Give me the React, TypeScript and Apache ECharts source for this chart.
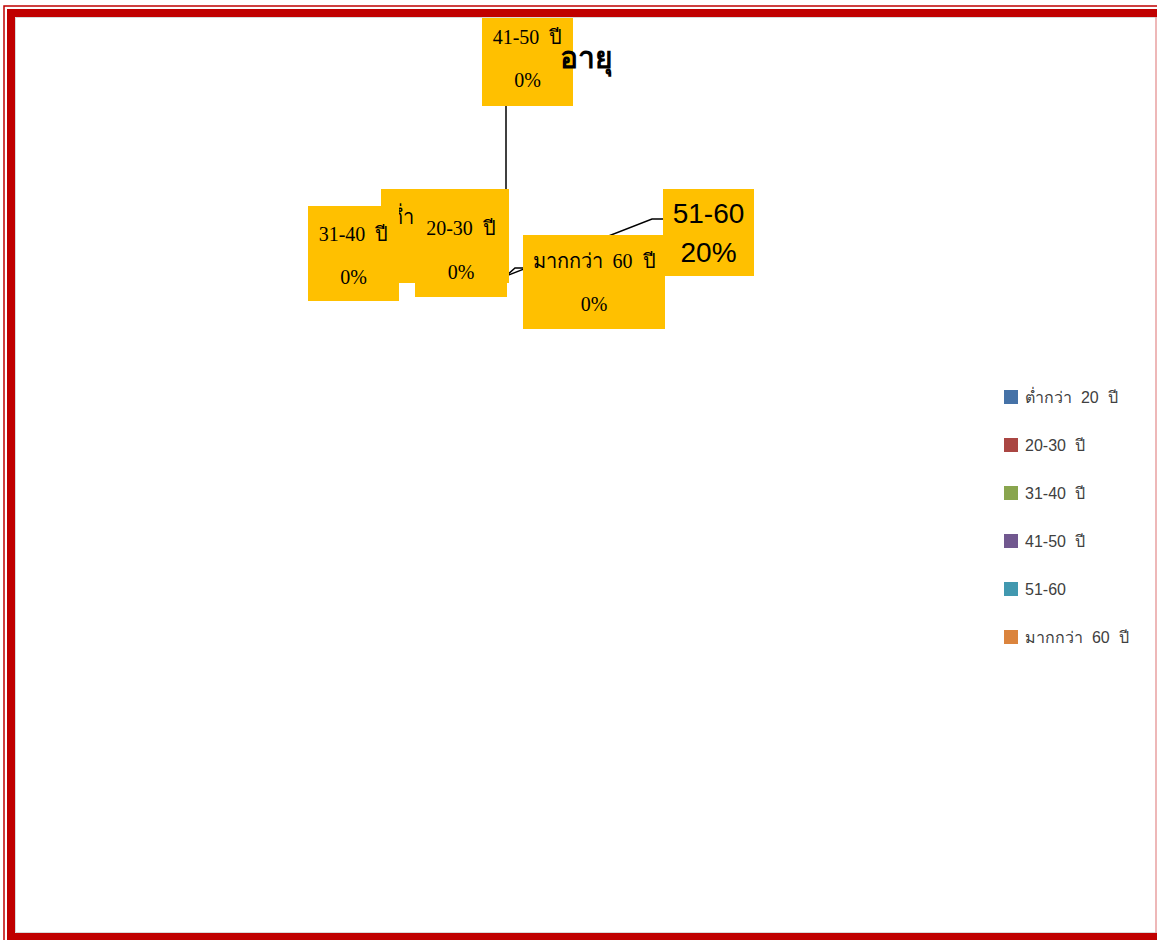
import React, { useEffect, useRef } from "react";
import * as echarts from "echarts";

const categories = ["ต่ำกว่า 20 ปี", "20-30 ปี", "31-40 ปี", "41-50 ปี", "51-60", "มากกว่า 60 ปี"];
const percentValues = [0, 0, 0, 0, 20, 0];
const sliceColors = ["#4572A7", "#AA4643", "#89A54E", "#71588F", "#4198AF", "#DB843D"];
const titleText = "อายุ";

// label box layout: top-left x/y, width, paddings, line height
const labelBoxes = [
  { x: 381, y: 189, w: 128, pt: 6, pb: 2, lh: 43 },
  { x: 415, y: 189, w: 92, pt: 17, pb: 3, lh: 44 },
  { x: 308, y: 206, w: 91, pt: 6, pb: 3, lh: 43 },
  { x: 482, y: 10, w: 91, pt: 5, pb: 5, lh: 43 },
  { x: 663, y: 189, w: 91, pt: 5, pb: 4, lh: 39 },
  { x: 523, y: 235, w: 142, pt: 4, pb: 4, lh: 43 },
];
const PIE_CENTER = [506, 276];
// leader line bends (elbow, end) per label
const leaderBends = [
  [[500, 270], [495, 268]],
  [[500, 268], [490, 268]],
  [[480, 270], [399, 260]],
  [[506, 190], [506, 106]],
  [[652, 219], [663, 219]],
  [[515, 268], [523, 268]],
];

const RED = "#C00000";
const spaced = (s: string) => s.replace(/ /g, "  ");

export default function App() {
  const ref = useRef<HTMLDivElement>(null);
  useEffect(() => {
    document.body.style.margin = "0";
    if (!ref.current) return;
    const chart = echarts.init(ref.current, undefined, { renderer: "svg" });
    const data = categories.map((name, i) => {
      const b = labelBoxes[i];
      const big = i === 4;
      return {
        name,
        value: percentValues[i],
        itemStyle: { color: sliceColors[i] },
        label: {
          width: b.w,
          padding: [b.pt, 0, b.pb, 0],
          lineHeight: b.lh,
          fontSize: big ? 28 : 20,
          fontFamily: big ? "Liberation Sans" : "Liberation Serif",
        },
      };
    });
    chart.setOption({
      animation: false,
      backgroundColor: "#ffffff",
      title: {
        text: titleText,
        left: 555,
        top: 36,
        textStyle: { fontSize: 30, fontWeight: "bold", color: "#000000", fontFamily: "Noto Sans" },
      },
      legend: {
        orient: "vertical",
        left: 999,
        top: 384,
        icon: "rect",
        itemWidth: 14,
        itemHeight: 14,
        itemGap: 32,
        data: categories,
        formatter: (n: string) => spaced(n),
        textStyle: { fontSize: 16, color: "#404040", fontFamily: "Liberation Sans", padding: [0, 0, 0, 2] },
      },
      series: [
        {
          type: "pie",
          center: PIE_CENTER,
          radius: [0, 1],
          avoidLabelOverlap: false,
          stillShowZeroSum: true,
          data,
          label: {
            show: true,
            position: "outside",
            formatter: (p: any) => `${spaced(p.name)}\n${p.value}%`,
            backgroundColor: "#FFC000",
            color: "#000000",
            overflow: "none",
            align: "center",
          },
          labelLine: { show: true, length: 20, length2: 10, lineStyle: { color: "#000000", width: 1.5 } },
          labelLayout: (params: any) => {
            const i = params.dataIndex;
            const b = labelBoxes[i];
            return {
              x: b.x + b.w / 2,
              y: b.y,
              align: "center",
              verticalAlign: "top",
              labelLinePoints: [PIE_CENTER, leaderBends[i][0], leaderBends[i][1]],
            };
          },
        },
      ],
      graphic: {
        elements: [
          {
            type: "rect",
            z: 100,
            shape: { x: 4, y: 6, width: 1300, height: 1100 },
            style: { fill: "none", stroke: RED, lineWidth: 1.5 },
          },
          {
            type: "rect",
            z: 100,
            shape: { x: 11, y: 13, width: 1300, height: 924 },
            style: { fill: "none", stroke: RED, lineWidth: 8 },
          },
          {
            type: "rect",
            z: 99,
            shape: { x: 15.5, y: 17.5, width: 1300, height: 915 },
            style: { fill: "none", stroke: "#D9D9D9", lineWidth: 1 },
          },
          {
            type: "line",
            z: 100,
            shape: { x1: 1156, y1: 17, x2: 1156, y2: 933 },
            style: { stroke: "#E8A0A0", lineWidth: 1.5 },
          },
        ],
      },
    });
    return () => chart.dispose();
  }, []);
  return <div ref={ref} style={{ position: "absolute", left: 0, top: 0, width: 1157, height: 940 }} />;
}
